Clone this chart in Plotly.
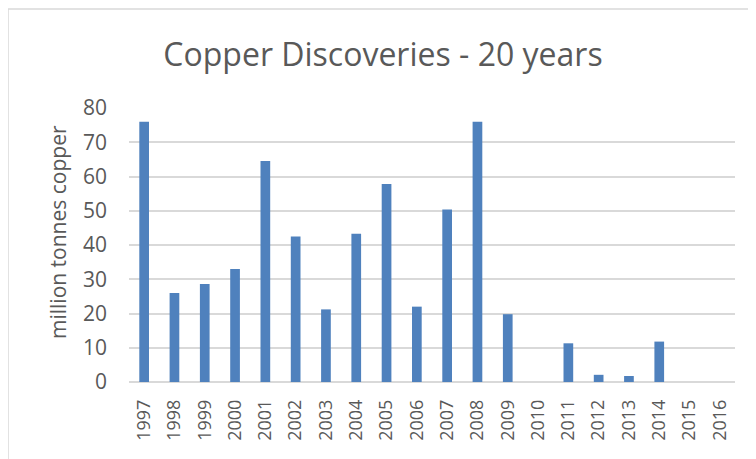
import plotly.graph_objects as go

years = [str(y) for y in range(1997, 2017)]
discoveries = [76.0, 26.0, 28.6, 33.0, 64.5, 42.5, 21.2, 43.3, 57.8, 22.0,
               50.4, 76.0, 19.8, 0, 11.3, 2.1, 1.75, 11.8, 0, 0]
y_ticks = [0, 10, 20, 30, 40, 50, 60, 70, 80]

# page body has an 8px margin, so work in window pixels and shift
OFF = 8
W, H = 756 - OFF, 459 - OFF
L, R, T, B = 129 - OFF, 21, 108 - OFF, 77
pw, ph = W - L - R, H - T - B

def px_x(p):
    return (p - OFF - L) / pw

def px_y(p):
    return (H - B - (p - OFF)) / ph

fig = go.Figure(go.Bar(x=years, y=discoveries, marker_color="#4f81bd",
                       marker_line_width=0, width=0.32))

fig.update_layout(
    width=W, height=H, margin=dict(l=L, r=R, t=T, b=B),
    paper_bgcolor="white", plot_bgcolor="white",
    font=dict(family="Open Sans", color="#595959", size=18),
    title=dict(text="Copper Discoveries - 20 years", x=(383 - OFF) / W, xref="container",
               xanchor="center", y=1 - (55 - OFF) / H, yanchor="middle",
               font=dict(size=32, color="#595959")),
    showlegend=False, bargap=0.68,
    shapes=[dict(type="path", xref="paper", yref="paper",
                 path=f"M {px_x(8)} {px_y(470)} L {px_x(8)} {px_y(9)} L {px_x(770)} {px_y(9)}",
                 line=dict(color="#d9d9d9", width=1.5))],
    annotations=[dict(text="million tonnes copper", xref="paper", yref="paper",
                      x=px_x(58), y=px_y(232), textangle=-90, showarrow=False,
                      xanchor="center", yanchor="middle",
                      font=dict(size=21, color="#595959"))],
)
fig.update_xaxes(type="category", tickangle=-90, showgrid=False, showline=False,
                 ticks="", ticklabelstandoff=13, tickfont=dict(size=18))
fig.update_yaxes(range=[0, 80], tickvals=y_ticks, showgrid=True, gridcolor="#d9d9d9",
                 gridwidth=1.5, zeroline=True, zerolinecolor="#d9d9d9", zerolinewidth=1.5,
                 showline=False, ticks="", ticklabelstandoff=21, tickfont=dict(size=21))

fig.write_html("out.html")
